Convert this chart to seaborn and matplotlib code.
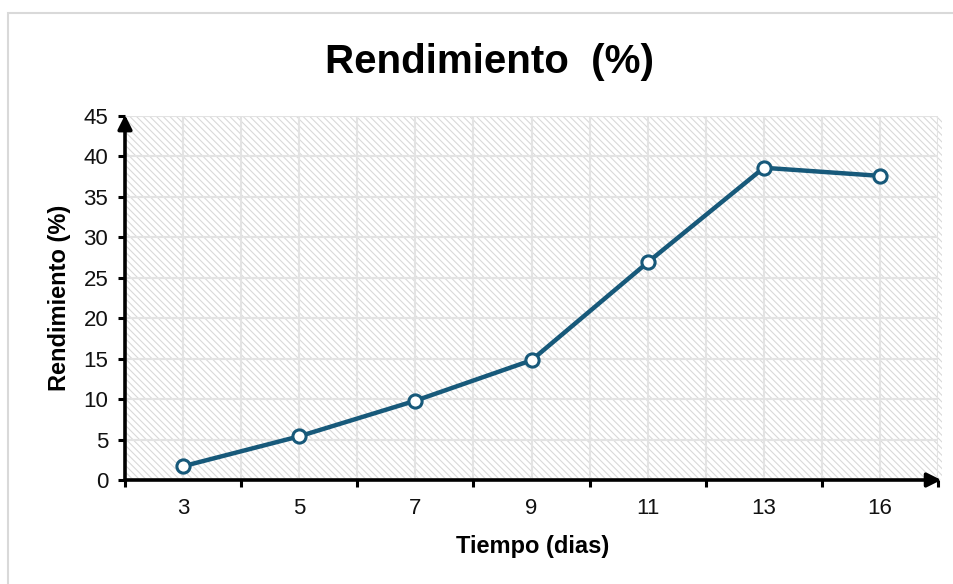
import matplotlib
matplotlib.use("Agg")
import matplotlib.pyplot as plt
from matplotlib.patches import Rectangle
import seaborn as sns
import pandas as pd
import numpy as np

# Data
dias = ["3", "5", "7", "9", "11", "13", "16"]
rendimiento = [1.7, 5.4, 9.8, 14.8, 26.9, 38.6, 37.6]
y_ticks = [0, 5, 10, 15, 20, 25, 30, 35, 40, 45]

title = "Rendimiento  (%)"
x_label = "Tiempo (dias)"
y_label = "Rendimiento (%)"

sns.set_theme(style="white")
plt.rcParams['font.family'] = ['Liberation Sans', 'DejaVu Sans']
plt.rcParams['hatch.linewidth'] = 0.8

W, H = 954, 584
fig = plt.figure(figsize=(W / 100, H / 100), dpi=100)
fig.patch.set_facecolor("white")

L, R, T, B = 125, 938, 116, 480
ax = fig.add_axes([L / W, 1 - B / H, (R - L) / W, (B - T) / H])
ax.set_facecolor("white")

# hatched plot-area background
ax.add_patch(Rectangle((0, 0), 1.005, 1, transform=ax.transAxes, facecolor="white",
                       edgecolor="#d9d9d9", linewidth=0, hatch="\\\\\\\\\\", zorder=0,
                       clip_on=False))

df = pd.DataFrame({"dias": pd.Categorical(dias, categories=dias, ordered=True),
                   "rend": rendimiento})
df["pos"] = df["dias"].cat.codes
line_color = "#17597a"
sns.lineplot(data=df, x="pos", y="rend", ax=ax, color=line_color, linewidth=3.2,
             marker="o", markersize=9.5, markerfacecolor="white",
             markeredgecolor=line_color, markeredgewidth=2.2, zorder=5, legend=False)

n = len(dias)
ax.set_xlim(-0.5, n - 0.5)
ax.set_ylim(0, 45)
ax.set_xticks(np.arange(n))
ax.set_xticklabels(dias)
ax.set_xticks(np.arange(n + 1) - 0.5, minor=True)
ax.set_yticks(y_ticks)

ax.set_axisbelow(True)
ax.grid(True, which="both", axis="x", color="#e3e3e3", linewidth=1.5, zorder=1)
ax.grid(True, which="major", axis="y", color="#e3e3e3", linewidth=1.5, zorder=1)

ax.tick_params(axis="x", which="major", length=0, pad=13, labelsize=16, colors="#111111")
ax.tick_params(axis="x", which="minor", length=5, width=2.2, color="black", direction="out")
ax.tick_params(axis="y", which="major", length=5, width=2.2, color="black", direction="out",
               pad=7, labelsize=16, labelcolor="#111111", left=True)
ax.tick_params(axis="x", which="minor", bottom=True)

for s in ax.spines.values():
    s.set_visible(False)

# axis lines with arrowheads
ax.annotate("", xy=(1.004, 0), xytext=(0, 0), xycoords="axes fraction",
            arrowprops=dict(arrowstyle="-|>", lw=2.6, color="black", mutation_scale=21,
                            shrinkA=0, shrinkB=0), annotation_clip=False, zorder=10)
ax.annotate("", xy=(0, 1.003), xytext=(0, 0), xycoords="axes fraction",
            arrowprops=dict(arrowstyle="-|>", lw=2.6, color="black", mutation_scale=21,
                            shrinkA=0, shrinkB=0), annotation_clip=False, zorder=10)

ax.set_xlabel("")
ax.set_ylabel("")

fig.text(490 / W, 1 - 62 / H, title, ha="center", va="center", fontsize=29,
         fontweight="bold", color="black")
fig.text(533 / W, 1 - 547 / H, x_label, ha="center", va="center", fontsize=17,
         fontweight="bold", color="black")
fig.text(60 / W, 1 - 298 / H, y_label, ha="center", va="center", fontsize=17,
         fontweight="bold", color="black", rotation=90)

# outer chart border
fig.patches.append(Rectangle((8 / W, -0.1), 1.2, 1 - 13 / H + 0.1,
                             transform=fig.transFigure, fill=False,
                             edgecolor="#d9d9d9", linewidth=1.5, figure=fig))

fig.savefig("out.png", dpi=100)
